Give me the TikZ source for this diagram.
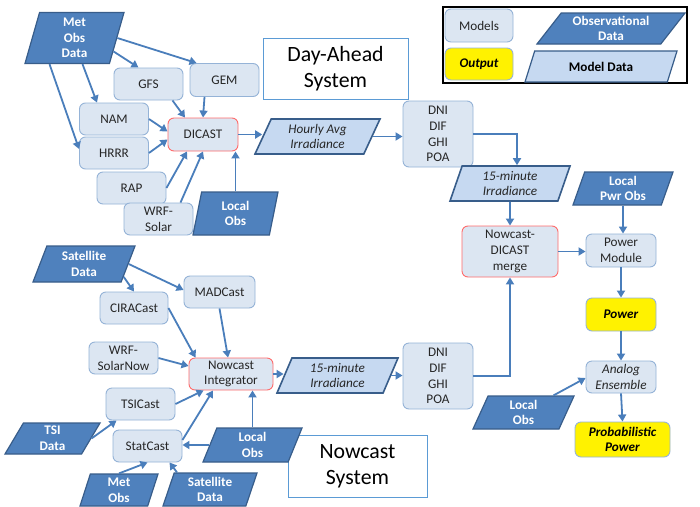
\documentclass[tikz,border=0pt]{standalone}
\usepackage{fontspec}
\setmainfont{Carlito}
\usetikzlibrary{shapes.geometric,arrows.meta,calc}
\definecolor{boxfill}{HTML}{DCE6F2}
\definecolor{boxline}{HTML}{95B3D7}
\definecolor{darkfill}{HTML}{4F81BD}
\definecolor{darkline}{HTML}{385D8A}
\definecolor{lightfill}{HTML}{C6D9F1}
\definecolor{arrc}{HTML}{4A7EBB}
\definecolor{redline}{HTML}{FF6B6B}
\definecolor{titleline}{HTML}{5B9BD5}
\definecolor{txt}{HTML}{262626}
\tikzset{
  mdl/.style={rectangle, rounded corners=6pt, draw=boxline, fill=boxfill, line width=0.9pt, minimum width=69pt, minimum height=32pt, align=center, inner sep=1pt, text=txt, font=\fontsize{13.2}{15.7}\selectfont},
  redmdl/.style={mdl, draw=redline},
  outp/.style={mdl, fill=yellow, text=black, font=\fontsize{13.2}{15.7}\selectfont\bfseries\itshape},
  pg/.style n args={3}{trapezium, trapezium left angle=#1, trapezium right angle=\the\numexpr180-#1\relax, trapezium stretches body, minimum width=#2, minimum height=#3, inner sep=0pt, align=center},
  obs/.style={draw=darkline, fill=darkfill, line width=1.2pt, text=white, font=\fontsize{13.2}{15.7}\selectfont\bfseries},
  mdat/.style={draw=darkline, fill=lightfill, line width=1.6pt, text=txt, font=\fontsize{13.2}{15.7}\selectfont\itshape},
  titlebox/.style={rectangle, draw=titleline, fill=white, line width=0.8pt, align=center, font=\fontsize{21.8}{26}\selectfont},
  arr/.style={draw=arrc, line width=1.8pt, -{Triangle[length=7pt,width=8pt]}},
}
\begin{document}
\begin{tikzpicture}[x=1pt,y=-1pt]
\useasboundingbox[fill=white] (0,0) rectangle (700,506);

% legend
\node[draw=black, line width=1.2pt, minimum width=244pt, minimum height=76pt, inner sep=0pt] (legend) at (565,45) {};
\node[mdl, minimum width=68pt, minimum height=33pt] (lmodels) at (479,25.5) {Models};
\node[outp, minimum width=68pt] (loutput) at (479,64) {Output};
\node[pg={46}{148pt}{31pt}, obs] (lobsd) at (611,28.5) {Observational\\Data};
\node[pg={44}{152pt}{31pt}, obs, fill=lightfill, text=black] (lmodeld) at (601,66.5) {Model Data};

% titles
\node[titlebox, minimum width=145pt, minimum height=61pt] (dayahead) at (335.5,68.5) {Day-Ahead\\System};
\node[titlebox, minimum width=139pt, minimum height=62pt] (nowsys) at (357.5,466) {Nowcast\\System};

% day-ahead section
\node[pg={70}{99pt}{51pt}, obs] (metobs) at (74.5,38) {Met\\Obs\\Data};
\node[mdl] (gfs) at (148.5,84) {GFS};
\node[mdl, minimum height=33pt] (gem) at (224.5,80) {GEM};
\node[mdl] (nam) at (114,119) {NAM};
\node[mdl] (hrrr) at (114,153) {HRRR};
\node[redmdl, minimum width=70pt, minimum height=33pt] (dicast) at (203,134.5) {DICAST};
\node[mdl] (rap) at (131.5,188) {RAP};
\node[mdl] (wrf) at (158.5,219) {WRF-\\Solar};
\node[pg={71}{85pt}{43pt}, obs] (lobs1) at (235.5,213.5) {Local\\Obs};
\node[pg={57}{125pt}{35pt}, mdat] (hourly) at (317.5,136.5) {Hourly Avg\\Irradiance};
\node[mdl, minimum width=70pt, minimum height=66pt] (dni1) at (438,134) {DNI\\DIF\\GHI\\POA};
\node[pg={64}{120pt}{35pt}, mdat] (irr1) at (510,183.5) {15-minute\\Irradiance};

% right column
\node[pg={65}{100pt}{33pt}, obs] (lpwr) at (623,188.5) {Local\\Pwr Obs};
\node[redmdl, minimum width=96pt, minimum height=51pt] (merge) at (510,251.5) {Nowcast-\\DICAST\\merge};
\node[mdl, minimum width=70pt, minimum height=33pt] (pmod) at (621,250.5) {Power\\Module};
\node[outp, minimum width=70pt, minimum height=33pt] (power) at (621,314.5) {Power};
\node[mdl, minimum width=70pt, font=\fontsize{13.2}{15.7}\selectfont\itshape] (analog) at (621,377) {Analog\\Ensemble};
\node[pg={59}{101pt}{33pt}, obs] (lobs3) at (523.5,412.5) {Local\\Obs};
\node[outp, minimum width=95pt, minimum height=35pt] (prob) at (622.5,439.5) {Probabilistic\\Power};

% nowcast section
\node[pg={61}{102pt}{36pt}, obs] (sat1) at (84,264) {Satellite\\Data};
\node[mdl, minimum width=68pt] (cira) at (134,308) {CIRACast};
\node[mdl, minimum width=71pt] (mad) at (219.5,292) {MADCast};
\node[mdl] (wrfnow) at (123.5,358) {WRF-\\SolarNow};
\node[redmdl, minimum width=84pt] (ni) at (231,374) {Nowcast\\Integrator};
\node[mdl] (tsic) at (140.5,404) {TSICast};
\node[pg={53}{95pt}{31pt}, obs] (tsi) at (52.5,438.5) {TSI\\Data};
\node[mdl] (statc) at (147.5,446) {StatCast};
\node[pg={61}{99pt}{34pt}, obs] (lobs2) at (252.5,445) {Local\\Obs};
\node[pg={67}{78pt}{32pt}, obs] (metobs2) at (119,490) {Met\\Obs};
\node[pg={66}{94pt}{33pt}, obs] (sat2) at (210,489.5) {Satellite\\Data};
\node[pg={59}{121pt}{35pt}, mdat] (irr2) at (337.5,375.5) {15-minute\\Irradiance};
\node[mdl, minimum width=70pt, minimum height=66pt] (dni2) at (438,376) {DNI\\DIF\\GHI\\POA};

% connectors: day-ahead
\draw[arr] (metobs.-19) -- ($(gfs.north)+(-10,0)$);
\draw[arr] (metobs.east) -- ($(gem.north west)+(7,0)$);
\draw[arr] ($(metobs.south)+(8,0)$) -- ($(nam.north)+(-17,0)$);
\draw[arr] ($(metobs.south)+(-25,0)$) -- ($(hrrr.west)+(0,-4)$);
\draw[arr] ($(gfs.south)+(24,0)$) -- ($(dicast.north)+(-18,0)$);
\draw[arr] ($(gem.south)+(-20,0)$) -- (dicast.north);
\draw[arr] (nam.east) -- ($(dicast.west)+(0,-3)$);
\draw[arr] (hrrr.east) -- ($(dicast.west)+(0,5)$);
\draw[arr] (rap.east) -- ($(dicast.south)+(-16,0)$);
\draw[arr] ($(wrf.north)+(22,0)$) -- (dicast.south);
\draw[arr] (lobs1.north) -- (lobs1.north |- dicast.south);
\draw[arr] (dicast.east) -- (dicast.east -| hourly.west);
\draw[arr] (hourly.east) -- (hourly.east -| dni1.west);
\draw[arr] (dni1.east) -| ($(irr1.north)+(7,0)$);
\draw[arr] (irr1.south) -- (merge.north);

% right column
\draw[arr] (merge.east) -- (merge.east -| pmod.west);
\draw[arr] (lpwr.south) -- (lpwr.south |- pmod.north);
\draw[arr] (pmod.south) -- (power.north);
\draw[arr] (power.south) -- (analog.north);
\draw[arr] ($(lobs3.north)+(30,0)$) -- ($(analog.west)+(0,1)$);
\draw[arr] (analog.south) -- (prob.north);
\draw[arr] (dni2.east) -| (merge.south);

% nowcast
\draw[arr] (sat1.-18) -- (cira.north);
\draw[arr] (sat1.east) -- ($(mad.west)+(0,-2)$);
\draw[arr] (cira.east) -- ($(ni.north west)+(7,0)$);
\draw[arr] (mad.south) -- ($(ni.north)+(-3,0)$);
\draw[arr] (wrfnow.east) -- ($(ni.west)+(0,-8)$);
\draw[arr] (tsic.east) -- ($(ni.south west)+(15,0)$);
\draw[arr] ($(statc.east)+(0,-6)$) -- ($(ni.south)+(-18,0)$);
\draw[arr] (lobs2.north) -- (lobs2.north |- ni.south);
\draw[arr] (lobs2.west) -- (lobs2.west -| statc.east);
\draw[arr] (tsi.east) -- ($(tsic.south west)+(11,0)$);
\draw[arr] (metobs2.north) -- (statc.south);
\draw[arr] ($(sat2.north)+(-33,0)$) -- ($(statc.south)+(22,0)$);
\draw[arr] (ni.east) -- (ni.east -| irr2.west);
\draw[arr] (irr2.east) -- (irr2.east -| dni2.west);
\end{tikzpicture}
\end{document}
